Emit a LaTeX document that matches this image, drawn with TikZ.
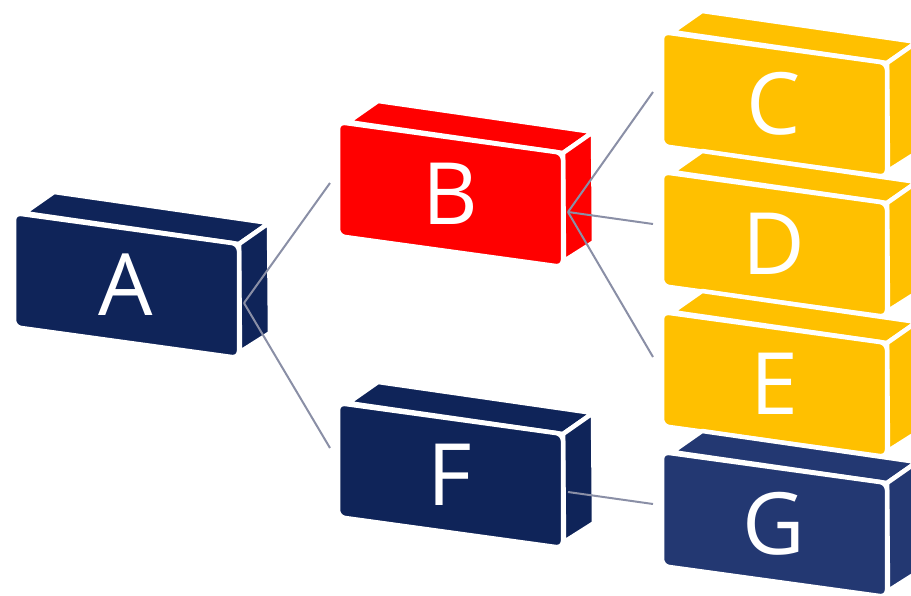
\documentclass[tikz,border=0pt]{standalone}
\usepackage{fontspec}
\setmainfont{Open Sans}
\definecolor{navy}{HTML}{0F2459}
\definecolor{navyg}{HTML}{233872}
\definecolor{redb}{HTML}{FF0000}
\definecolor{yell}{HTML}{FFC000}
\definecolor{conn}{HTML}{8A8FA6}
\tikzset{
  face/.style={fill=#1,draw=white,line width=4.5pt,line join=round},
  label/.style={text=white,font=\fontsize{86}{86}\selectfont,inner sep=0pt},
  connector/.style={draw=conn,line width=2pt}
}
\newcommand\brick[5]{%
\begin{scope}[shift={(#2,#3)}]
  \path[face=#4] (10,0) -- (225,31) -- (255,10) -- (40,-21) -- cycle;
  \path[face=#4] (225,31) -- (255,10) -- (256,120) -- (226,139) -- cycle;
  \path[face=#4,rounded corners=7pt] (0,0) -- (225,31) -- (225,145) -- (0,114) -- cycle;
  \node[label] (#1) at (112,72) {#5};
\end{scope}}
\begin{document}
\begin{tikzpicture}[x=1pt,y=-1pt]
\useasboundingbox (0,0) rectangle (911,595);
\brick{A}{14}{213}{navy}{A}
\brick{B}{338}{122}{redb}{B}
\brick{F}{338}{403}{navy}{F}
\brick{C}{662}{32}{yell}{C}
\brick{D}{662}{172}{yell}{D}
\brick{E}{662}{312}{yell}{E}
\brick{G}{662}{452}{navyg}{G}
\coordinate (Aout) at (244,303);
\coordinate (Bin) at (330,183);
\coordinate (Fin) at (330,448);
\coordinate (Bout) at (568,212);
\coordinate (Cin) at (653,92);
\coordinate (Din) at (653,224);
\coordinate (Ein) at (653,357);
\coordinate (Fout) at (568,492);
\coordinate (Gin) at (653,504);
\draw[connector] (Aout) -- (Bin);
\draw[connector] (Aout) -- (Fin);
\draw[connector] (Bout) -- (Cin);
\draw[connector] (Bout) -- (Din);
\draw[connector] (Bout) -- (Ein);
\draw[connector] (Fout) -- (Gin);
\end{tikzpicture}
\end{document}
